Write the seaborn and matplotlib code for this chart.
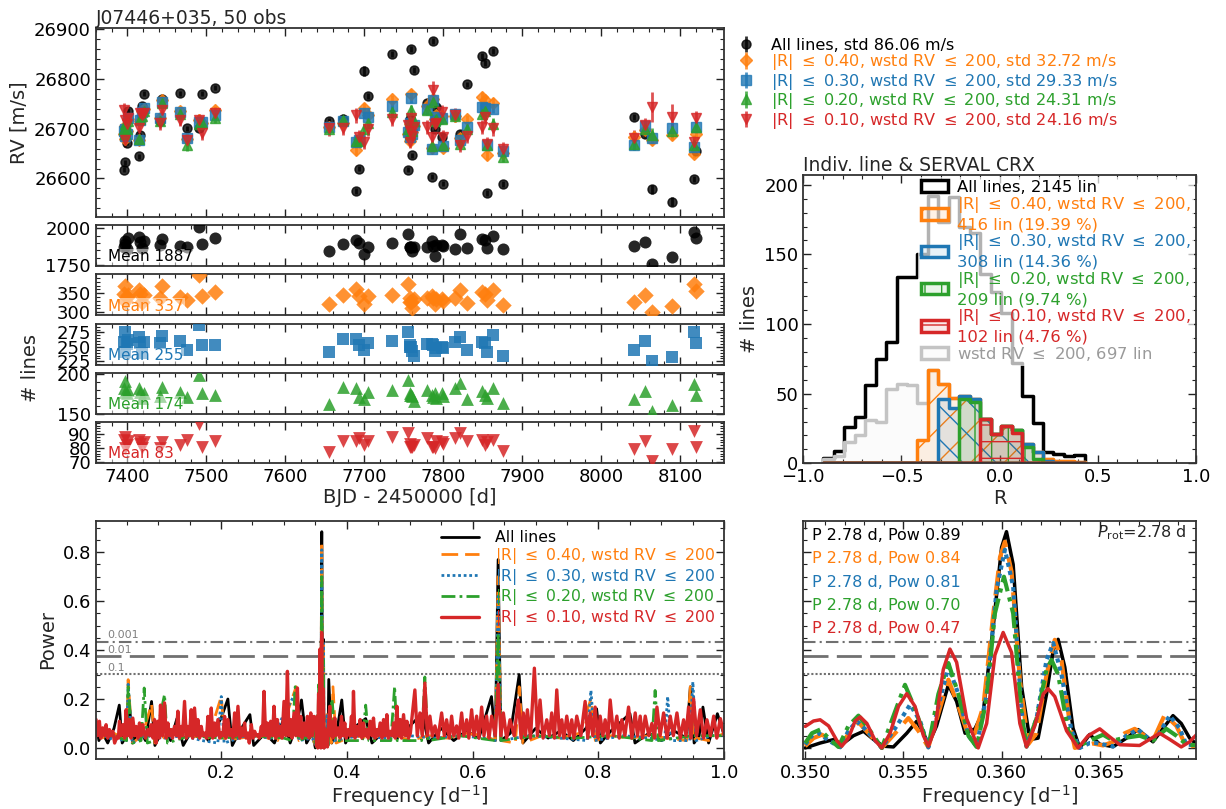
import numpy as np
import pandas as pd
import matplotlib
matplotlib.use("Agg")
import matplotlib.pyplot as plt
import seaborn as sns
from matplotlib.ticker import AutoMinorLocator, FixedLocator, NullFormatter

# ======================= DATA =======================
bjd = [7395.5, 7396.5, 7397.5, 7399.0, 7400.5, 7415.0, 7416.5, 7418.5, 7421.0, 7441.5,
       7443.5, 7467.0, 7476.0, 7490.5, 7494.5, 7511.0, 7656.0, 7673.0, 7689.5, 7693.0,
       7699.5, 7704.5, 7735.5, 7755.5, 7757.5, 7758.5, 7759.5, 7761.0, 7763.0, 7779.5,
       7785.5, 7787.5, 7789.0, 7790.5, 7798.0, 7799.5, 7815.0, 7821.5, 7830.0, 7849.0,
       7852.5, 7856.0, 7863.5, 7875.5, 8041.0, 8055.5, 8064.0, 8089.5, 8117.0, 8120.0]

rv_all = [26618, 26690, 26633, 26672, 26735, 26645, 26687, 26746, 26770, 26715,
          26759, 26771, 26701, 26702, 26770, 26782, 26716, 26719, 26575, 26620,
          26816, 26766, 26850, 26618, 26719, 26700, 26860, 26647, 26818, 26752,
          26603, 26876, 26700, 26743, 26684, 26589, 26725, 26690, 26789, 26846,
          26833, 26570, 26856, 26588, 26723, 26690, 26578, 26553, 26598, 26656]
rv_r40 = [26690, 26705, 26680, 26695, 26720, 26678, 26715, 26735, 26740, 26722,
          26758, 26735, 26680, 26717, 26712, 26738, 26704, 26712, 26657, 26680,
          26741, 26728, 26759, 26690, 26675, 26710, 26770, 26694, 26705, 26745,
          26662, 26760, 26720, 26728, 26725, 26662, 26725, 26682, 26719, 26764,
          26757, 26647, 26752, 26652, 26684, 26697, 26677, 26687, 26650, 26690]
rv_r30 = [26695, 26700, 26685, 26690, 26722, 26677, 26718, 26734, 26741, 26721,
          26754, 26734, 26681, 26714, 26714, 26727, 26703, 26716, 26674, 26678,
          26732, 26724, 26746, 26694, 26684, 26712, 26761, 26690, 26708, 26740,
          26660, 26758, 26718, 26723, 26721, 26665, 26730, 26678, 26704, 26743,
          26741, 26667, 26740, 26655, 26667, 26705, 26682, 26701, 26664, 26704]
rv_r20 = [26700, 26710, 26690, 26700, 26715, 26680, 26720, 26725, 26735, 26715,
          26752, 26730, 26667, 26710, 26712, 26722, 26700, 26718, 26676, 26675,
          26699, 26712, 26734, 26700, 26690, 26715, 26737, 26695, 26715, 26738,
          26665, 26754, 26715, 26720, 26720, 26668, 26726, 26670, 26700, 26730,
          26736, 26668, 26710, 26644, 26670, 26700, 26687, 26695, 26668, 26704]
rv_r10 = [26738, 26717, 26677, 26710, 26722, 26701, 26731, 26728, 26731, 26711,
          26738, 26717, 26677, 26717, 26692, 26731, 26701, 26701, 26727, 26684,
          26674, 26699, 26719, 26707, 26674, 26696, 26722, 26685, 26704, 26704,
          26684, 26778, 26710, 26712, 26734, 26684, 26727, 26667, 26685, 26704,
          26723, 26670, 26701, 26660, 26682, 26707, 26744, 26724, 26674, 26721]

err_all = [5, 5, 5, 5, 6, 5, 5, 5, 5, 5, 5, 5, 5, 5, 5, 5, 6, 5, 6, 6,
           10, 6, 6, 5, 5, 5, 6, 5, 6, 5, 5, 6, 5, 5, 5, 5, 5, 6, 5, 6,
           6, 6, 6, 6, 6, 6, 9, 9, 6, 6]
err_r40 = [8, 8, 8, 8, 9, 8, 8, 8, 8, 8, 9, 8, 8, 8, 9, 8, 9, 8, 10, 9,
           10, 9, 9, 8, 8, 8, 9, 8, 8, 9, 8, 9, 8, 8, 8, 8, 9, 9, 9, 9,
           9, 9, 9, 9, 9, 9, 10, 10, 9, 9]
err_r30 = [8, 8, 8, 9, 9, 8, 8, 9, 8, 8, 9, 8, 9, 8, 9, 8, 9, 9, 10, 9,
           10, 9, 9, 8, 9, 8, 9, 8, 9, 9, 8, 9, 9, 8, 8, 9, 9, 9, 9, 9,
           9, 9, 9, 9, 10, 9, 11, 10, 9, 10]
err_r20 = [10, 10, 11, 10, 11, 10, 10, 11, 10, 10, 11, 10, 11, 10, 11, 10, 11, 11, 12, 11,
           12, 11, 11, 10, 11, 10, 11, 10, 11, 11, 10, 11, 11, 10, 10, 11, 11, 11, 11, 11,
           11, 11, 11, 11, 12, 11, 14, 13, 11, 12]
err_r10 = [14, 12, 13, 12, 14, 12, 12, 12, 12, 13, 13, 12, 12, 12, 14, 12, 15, 14, 15, 14,
           14, 13, 14, 13, 13, 13, 15, 13, 13, 14, 14, 18, 13, 13, 13, 13, 14, 14, 14, 14,
           14, 14, 15, 14, 15, 15, 30, 25, 14, 15]

nl_all = [1875, 1913, 1890, 1860, 1932, 1943, 1905, 1864, 1913, 1886,
          1927, 1882, 1870, 2011, 1893, 1936, 1845, 1891, 1920, 1898,
          1823, 1875, 1902, 1959, 1875, 1870, 1875, 1845, 1870, 1870,
          1913, 1879, 1813, 1886, 1886, 1880, 1859, 1959, 1864, 1927,
          1918, 1864, 1950, 1857, 1877, 1909, 1755, 1804, 1973, 1932]
nl_r40 = [349, 370, 329, 340, 345, 358, 349, 327, 345, 338,
          370, 340, 331, 397, 343, 352, 322, 345, 361, 343,
          322, 343, 345, 373, 327, 338, 327, 311, 335, 338,
          343, 338, 322, 334, 334, 330, 338, 358, 325, 352,
          347, 331, 358, 318, 327, 345, 300, 315, 373, 356]
nl_r30 = [259, 275, 242, 255, 262, 267, 257, 239, 258, 257,
          269, 260, 245, 288, 253, 253, 242, 264, 264, 254,
          245, 257, 260, 276, 249, 253, 250, 243, 234, 255,
          255, 254, 243, 248, 250, 248, 259, 267, 245, 259,
          256, 241, 270, 235, 245, 260, 225, 232, 275, 257]
nl_r20 = [183, 191, 178, 176, 180, 183, 178, 170, 176, 172,
          184, 178, 171, 199, 176, 174, 162, 184, 182, 171,
          168, 178, 180, 193, 174, 176, 174, 172, 166, 180,
          174, 171, 176, 170, 176, 172, 182, 189, 169, 179,
          174, 170, 182, 164, 168, 179, 153, 161, 187, 174]
nl_r10 = [86, 88, 80, 82, 85, 86, 83, 80, 84, 80,
          84, 82, 86, 97, 81, 85, 77, 85, 85, 87,
          82, 85, 88, 91, 83, 81, 81, 81, 82, 87,
          81, 81, 80, 85, 84, 83, 87, 91, 85, 86,
          82, 84, 86, 78, 79, 85, 71, 79, 92, 81]

LEQ = "$\\leq$"
rv_labels = ["All lines, std 86.06 m/s",
             f"|R| {LEQ} 0.40, wstd RV {LEQ} 200, std 32.72 m/s",
             f"|R| {LEQ} 0.30, wstd RV {LEQ} 200, std 29.33 m/s",
             f"|R| {LEQ} 0.20, wstd RV {LEQ} 200, std 24.31 m/s",
             f"|R| {LEQ} 0.10, wstd RV {LEQ} 200, std 24.16 m/s"]
mean_labels = ["Mean 1887", "Mean 337", "Mean 255", "Mean 174", "Mean 83"]

# correlation histogram (counts per bin, shared bins)
r_bin_lo, r_bin_hi, r_nbins = -0.898, 0.434, 25
hist_all = [4, 9, 26, 33, 56, 75, 87, 134, 134, 150, 192, 173, 191, 170, 165, 136, 123, 108, 72, 48, 29, 8, 7, 5, 6]
hist_r40 = [0, 0, 0, 0, 0, 0, 0, 0, 0, 17, 67, 57, 47, 48, 46, 32, 21, 27, 24, 14, 8, 3, 2, 2, 1]
hist_r30 = [0, 0, 0, 0, 0, 0, 0, 0, 0, 0, 0, 46, 40, 48, 46, 32, 21, 27, 24, 14, 8, 2, 0, 0, 0]
hist_r20 = [0, 0, 0, 0, 0, 0, 0, 0, 0, 0, 0, 0, 0, 46, 44, 32, 21, 27, 24, 12, 3, 0, 0, 0, 0]
hist_r10 = [0, 0, 0, 0, 0, 0, 0, 0, 0, 0, 0, 0, 0, 0, 0, 32, 21, 27, 22, 0, 0, 0, 0, 0, 0]
hist_wstd = [3, 5, 15, 20, 31, 30, 53, 57, 56, 43, 67, 57, 47, 48, 46, 32, 21, 27, 24, 14, 8, 3, 2, 2, 1]
hist_labels = ["All lines, 2145 lin",
               f"|R| {LEQ} 0.40, wstd RV {LEQ} 200,\n416 lin (19.39 %)",
               f"|R| {LEQ} 0.30, wstd RV {LEQ} 200,\n308 lin (14.36 %)",
               f"|R| {LEQ} 0.20, wstd RV {LEQ} 200,\n209 lin (9.74 %)",
               f"|R| {LEQ} 0.10, wstd RV {LEQ} 200,\n102 lin (4.76 %)",
               f"wstd RV {LEQ} 200, 697 lin"]

# periodograms: (frequency, power) outside and inside the 0.35-0.37 window
pg_r10_out = [(0.0015, .116), (0.004, .05), (0.0068, .109), (0.009, .04), (0.0121, .082), (0.015, .05),
              (0.0174, .095), (0.020, .04), (0.0228, .075), (0.025, .05), (0.0281, .068), (0.031, .02),
              (0.0350, .048), (0.037, .04), (0.0387, .109), (0.041, .05), (0.0440, .095), (0.047, .04),
              (0.0493, .156), (0.052, .05), (0.0546, .116), (0.057, .04), (0.0599, .122), (0.063, .05),
              (0.0652, .088), (0.068, .04), (0.0705, .102), (0.073, .05), (0.0758, .095), (0.080, .04),
              (0.0838, .075), (0.087, .05), (0.0891, .095), (0.092, .04), (0.0944, .116), (0.097, .02),
              (0.0997, .109), (0.102, .04), (0.1039, .175), (0.107, .05), (0.1103, .184), (0.113, .04),
              (0.1156, .102), (0.118, .05), (0.1209, .075), (0.123, .04), (0.1262, .088), (0.129, .05),
              (0.1315, .150), (0.134, .04), (0.1368, .088), (0.139, .05), (0.1421, .190), (0.145, .04),
              (0.1474, .088), (0.150, .05), (0.1527, .156), (0.155, .04), (0.1580, .163), (0.161, .05),
              (0.1633, .116), (0.166, .04), (0.1687, .088), (0.171, .05), (0.1740, .061), (0.177, .04),
              (0.1793, .129), (0.182, .05), (0.1846, .163), (0.187, .04), (0.1899, .102), (0.192, .05),
              (0.1952, .116), (0.198, .04), (0.2005, .061), (0.203, .05), (0.2058, .129), (0.208, .04),
              (0.2111, .116), (0.214, .05), (0.2164, .075), (0.219, .04), (0.2217, .143), (0.224, .05),
              (0.2270, .170), (0.230, .04), (0.2323, .082), (0.235, .05), (0.2376, .102), (0.240, .04),
              (0.2429, .061), (0.245, .02), (0.2482, .095), (0.251, .04), (0.2535, .068), (0.256, .05),
              (0.2589, .054), (0.261, .04), (0.2642, .088), (0.266, .05), (0.2684, .231), (0.271, .05),
              (0.2737, .102), (0.276, .04), (0.2790, .109), (0.282, .05), (0.2843, .170), (0.287, .04),
              (0.2896, .116), (0.292, .05), (0.2949, .088), (0.297, .04), (0.3002, .190), (0.303, .05),
              (0.3056, .313), (0.308, .05), (0.3108, .116), (0.313, .04), (0.3161, .143), (0.319, .05),
              (0.3215, .245), (0.324, .05), (0.3268, .129), (0.329, .04), (0.3321, .102), (0.335, .05),
              (0.3374, .129), (0.340, .04), (0.3427, .143), (0.345, .05), (0.3480, .129),
              (0.3729, .17), (0.3740, .05), (0.3756, .109), (0.378, .04), (0.3809, .122), (0.383, .05),
              (0.3862, .082), (0.389, .04), (0.3915, .129), (0.394, .05), (0.3968, .102), (0.399, .04),
              (0.4021, .075), (0.405, .05), (0.4074, .129), (0.409, .05), (0.4106, .231), (0.413, .04),
              (0.4159, .088), (0.419, .05), (0.4212, .116), (0.424, .04), (0.4265, .102), (0.429, .05),
              (0.4318, .075), (0.434, .04), (0.4371, .109), (0.440, .05), (0.4424, .122), (0.445, .04),
              (0.4477, .075), (0.450, .05), (0.4530, .102), (0.456, .04), (0.4584, .116), (0.461, .05),
              (0.4637, .136), (0.466, .04), (0.4690, .068), (0.472, .05), (0.4743, .102), (0.477, .04),
              (0.4796, .170), (0.482, .05), (0.4849, .116), (0.487, .04), (0.4902, .136), (0.493, .05),
              (0.4955, .109), (0.498, .04), (0.501, .06), (0.5082, .237), (0.512, .05), (0.5162, .143),
              (0.520, .05), (0.5241, .265), (0.528, .05), (0.5321, .13), (0.536, .05), (0.5401, .09),
              (0.545, .04), (0.5507, .143), (0.555, .05), (0.5586, .115), (0.563, .04), (0.5666, .13),
              (0.570, .05), (0.5745, .09), (0.578, .04), (0.5825, .143), (0.586, .05), (0.5905, .115),
              (0.594, .04), (0.5984, .156), (0.602, .05), (0.6063, .13), (0.610, .04), (0.6143, .167),
              (0.618, .05), (0.6222, .13), (0.626, .04), (0.6302, .13), (0.636, .05), (0.6405, .26),
              (0.645, .05), (0.6488, .143), (0.654, .04), (0.6594, .115), (0.666, .05), (0.6726, .196),
              (0.677, .04), (0.6806, .143), (0.684, .05), (0.6870, .156), (0.692, .04), (0.6981, .326),
              (0.703, .05), (0.7071, .196), (0.712, .04), (0.7178, .115), (0.722, .05), (0.7257, .143),
              (0.730, .04), (0.7337, .237), (0.738, .05), (0.7417, .115), (0.745, .04), (0.7496, .13),
              (0.754, .05), (0.7575, .115), (0.761, .04), (0.7655, .13), (0.772, .05), (0.7788, .19),
              (0.783, .04), (0.7867, .143), (0.791, .05), (0.7947, .167), (0.799, .04), (0.8027, .13),
              (0.807, .05), (0.8106, .115), (0.815, .04), (0.8186, .196), (0.824, .05), (0.8292, .13),
              (0.833, .04), (0.8371, .115), (0.842, .05), (0.8478, .167), (0.853, .04), (0.8584, .143),
              (0.862, .05), (0.8663, .13), (0.870, .04), (0.8743, .13), (0.880, .05), (0.8849, .10),
              (0.889, .04), (0.8929, .167), (0.898, .05), (0.9035, .143), (0.909, .04), (0.9141, .13),
              (0.919, .05), (0.9247, .143), (0.930, .04), (0.9353, .115), (0.939, .05), (0.9432, .167),
              (0.947, .04), (0.9512, .20), (0.956, .05), (0.9618, .156), (0.967, .04), (0.9724, .115),
              (0.978, .05), (0.9831, .13), (0.988, .04), (0.9937, .12), (1.000, .05)]
pg_r10_win = [(0.35000, .088), (0.35042, .110), (0.35076, .115), (0.35119, .09), (0.35161, .03), (0.35186, .007),
              (0.35220, .04), (0.35254, .11), (0.35280, .127), (0.35314, .10), (0.35356, .03), (0.35390, .0),
              (0.35432, .06), (0.35475, .17), (0.35517, .222), (0.35559, .17), (0.35602, .05), (0.35627, .007),
              (0.35661, .08), (0.35703, .32), (0.35737, .404), (0.35771, .35), (0.35822, .12), (0.35881, .0),
              (0.35924, .10), (0.35966, .38), (0.36008, .472), (0.36051, .39), (0.36093, .10), (0.36127, .004),
              (0.36169, .09), (0.36212, .22), (0.36237, .242), (0.36271, .21), (0.36331, .07), (0.36390, .0),
              (0.36441, .05), (0.36500, .078), (0.36551, .045), (0.36602, .013), (0.36703, .01), (0.36754, .035),
              (0.36805, .06), (0.36856, .035), (0.36915, .004), (0.36958, .025), (0.37000, .06)]

pg_all_out = [(0.0015, .10), (0.006, .03), (0.012, .06), (0.020, .02), (0.030, .08), (0.0384, .175), (0.043, .02),
              (0.050, .05), (0.0546, .17), (0.060, .02), (0.070, .08), (0.080, .03), (0.0897, .19), (0.095, .01),
              (0.110, .09), (0.120, .03), (0.130, .12), (0.140, .01), (0.160, .10), (0.180, .03), (0.200, .12),
              (0.211, .20), (0.218, .01), (0.230, .07), (0.246, .136), (0.252, .01), (0.270, .06), (0.285, .02),
              (0.300, .12), (0.310, .02), (0.320, .09), (0.328, .196), (0.336, .02), (0.345, .06),
              (0.3713, .28), (0.376, .02), (0.385, .08), (0.392, .196), (0.398, .02), (0.410, .08), (0.430, .12),
              (0.440, .02), (0.460, .07), (0.480, .04), (0.500, .09), (0.520, .14), (0.530, .02), (0.550, .08),
              (0.570, .03), (0.590, .07), (0.610, .04), (0.630, .21), (0.636, .03), (0.6405, .77), (0.645, .03),
              (0.660, .06), (0.674, .30), (0.680, .02), (0.700, .08), (0.720, .04), (0.740, .07), (0.760, .03),
              (0.780, .08), (0.797, .16), (0.803, .02), (0.820, .07), (0.850, .14), (0.858, .02), (0.880, .06),
              (0.900, .03), (0.920, .07), (0.940, .04), (0.946, .25), (0.952, .02), (0.960, .05), (0.966, .167),
              (0.975, .02), (0.989, .14), (1.000, .05)]
pg_all_win = [(0.35000, .0), (0.35076, .02), (0.35144, .034), (0.35186, .014), (0.35246, .05), (0.35297, .068),
              (0.35347, .035), (0.35398, .007), (0.35449, .004), (0.35517, .06), (0.35568, .109), (0.35602, .06),
              (0.35627, .014), (0.35669, .09), (0.35729, .258), (0.35771, .19), (0.35814, .06), (0.35864, .078),
              (0.35907, .15), (0.35958, .50), (0.36000, .82), (0.36025, .884), (0.36059, .75), (0.36102, .25),
              (0.36144, .034), (0.36186, .04), (0.36229, .22), (0.36263, .40), (0.36288, .444), (0.36322, .33),
              (0.36364, .08), (0.36398, .0), (0.36449, .055), (0.36500, .015), (0.36568, .005), (0.36636, .04),
              (0.36695, .075), (0.36771, .025), (0.36822, .08), (0.36873, .132), (0.36915, .10), (0.36958, .04),
              (0.37000, .01)]

pg_r40_out = [(0.0015, .09), (0.010, .04), (0.030, .06), (0.050, .03), (0.0525, .279), (0.059, .02), (0.075, .05),
              (0.0897, .18), (0.095, .02), (0.120, .06), (0.150, .05), (0.180, .04), (0.2005, .21), (0.206, .03),
              (0.230, .04), (0.260, .05), (0.290, .03), (0.3195, .25), (0.324, .03), (0.345, .05),
              (0.3713, .12), (0.3755, .02), (0.378, .25), (0.383, .02), (0.410, .05), (0.440, .04), (0.470, .06),
              (0.500, .03), (0.530, .05), (0.560, .04), (0.590, .06), (0.620, .05), (0.636, .03), (0.6405, .70),
              (0.645, .03), (0.668, .02), (0.674, .25), (0.680, .02), (0.710, .05), (0.740, .04), (0.770, .06),
              (0.788, .20), (0.795, .03), (0.820, .05), (0.850, .04), (0.880, .05), (0.910, .04), (0.940, .03),
              (0.946, .25), (0.951, .03), (0.956, .04), (0.975, .03), (1.000, .06)]
pg_r40_win = [(0.35000, .007), (0.35042, .04), (0.35085, .054), (0.35127, .035), (0.35178, .003), (0.35229, .07),
              (0.35271, .105), (0.35322, .06), (0.35390, .0), (0.35458, .06), (0.35525, .122), (0.35576, .07),
              (0.35627, .003), (0.35678, .14), (0.35729, .279), (0.35780, .17), (0.35831, .05), (0.35864, .06),
              (0.35907, .17), (0.35958, .55), (0.35992, .78), (0.36017, .843), (0.36051, .72), (0.36093, .28),
              (0.36136, .015), (0.36178, .06), (0.36229, .30), (0.36271, .442), (0.36305, .36), (0.36347, .10),
              (0.36373, .0), (0.36424, .01), (0.36466, .018), (0.36517, .01), (0.36568, .025), (0.36627, .06),
              (0.36678, .078), (0.36729, .05), (0.36771, .03), (0.36831, .136), (0.36890, .09), (0.36941, .005),
              (0.37000, .01)]

pg_r30_out = [(0.0015, .08), (0.020, .04), (0.050, .03), (0.0525, .26), (0.059, .02), (0.080, .05), (0.110, .04),
              (0.140, .05), (0.170, .03), (0.195, .02), (0.2005, .21), (0.205, .02), (0.240, .05), (0.280, .04),
              (0.3195, .23), (0.324, .03), (0.345, .04),
              (0.3713, .10), (0.380, .03), (0.420, .05), (0.460, .04), (0.500, .05), (0.540, .04), (0.580, .05),
              (0.620, .04), (0.636, .03), (0.6405, .62), (0.645, .03), (0.690, .05), (0.740, .04), (0.782, .03),
              (0.788, .235), (0.794, .03), (0.840, .05), (0.880, .04), (0.905, .03), (0.910, .21), (0.915, .03),
              (0.945, .03), (0.950, .27), (0.955, .03), (0.980, .05), (1.000, .05)]
pg_r30_win = [(0.35000, .014), (0.35034, .05), (0.35068, .061), (0.35119, .03), (0.35178, .003), (0.35220, .07),
              (0.35263, .109), (0.35314, .07), (0.35390, .0), (0.35466, .09), (0.35534, .177), (0.35585, .11),
              (0.35627, .002), (0.35678, .17), (0.35729, .333), (0.35780, .22), (0.35831, .05), (0.35873, .006),
              (0.35924, .22), (0.35975, .65), (0.36017, .81), (0.36059, .66), (0.36102, .15), (0.36127, .006),
              (0.36178, .12), (0.36229, .36), (0.36263, .429), (0.36305, .30), (0.36356, .07), (0.36398, .0),
              (0.36449, .02), (0.36483, .02), (0.36568, .006), (0.36636, .05), (0.36695, .075), (0.36746, .04),
              (0.36788, .04), (0.36856, .132), (0.36907, .08), (0.36941, .014), (0.37000, .01)]

pg_r20_out = [(0.0015, .08), (0.030, .05), (0.050, .03), (0.0525, .25), (0.059, .02), (0.073, .03), (0.078, .245),
              (0.083, .02), (0.095, .03), (0.1103, .218), (0.115, .02), (0.150, .05), (0.200, .04), (0.250, .05),
              (0.300, .04), (0.313, .03), (0.318, .25), (0.323, .03), (0.345, .05),
              (0.3713, .06), (0.3765, .20), (0.382, .03), (0.425, .03), (0.430, .175), (0.435, .03),
              (0.470, .03), (0.476, .252), (0.480, .03), (0.519, .03), (0.524, .29), (0.529, .03), (0.580, .05),
              (0.636, .03), (0.6405, .47), (0.645, .03), (0.700, .05), (0.760, .04), (0.820, .05), (0.885, .03),
              (0.890, .235), (0.895, .03), (0.950, .05), (1.000, .05)]
pg_r20_win = [(0.35000, .02), (0.35034, .06), (0.35076, .075), (0.35119, .04), (0.35169, .004), (0.35220, .09),
              (0.35271, .132), (0.35322, .08), (0.35390, .0), (0.35449, .13), (0.35508, .258), (0.35559, .16),
              (0.35627, .004), (0.35678, .22), (0.35729, .347), (0.35780, .22), (0.35831, .05), (0.35873, .004),
              (0.35924, .20), (0.35966, .55), (0.36012, .70), (0.36059, .55), (0.36102, .14), (0.36127, .006),
              (0.36178, .12), (0.36229, .32), (0.36254, .36), (0.36288, .30), (0.36339, .07), (0.36390, .006),
              (0.36449, .03), (0.36517, .054), (0.36568, .03), (0.36619, .04), (0.36703, .05), (0.36771, .03),
              (0.36839, .078), (0.36890, .05), (0.36941, .014), (0.37000, .01)]

pg_labels = ["All lines",
             f"|R| {LEQ} 0.40, wstd RV {LEQ} 200",
             f"|R| {LEQ} 0.30, wstd RV {LEQ} 200",
             f"|R| {LEQ} 0.20, wstd RV {LEQ} 200",
             f"|R| {LEQ} 0.10, wstd RV {LEQ} 200"]
peak_labels = ["P 2.78 d, Pow 0.89", "P 2.78 d, Pow 0.84", "P 2.78 d, Pow 0.81",
               "P 2.78 d, Pow 0.70", "P 2.78 d, Pow 0.47"]
fap_levels = [0.435, 0.374, 0.302]
fap_labels = ["0.001", "0.01", "0.1"]

# ======================= STYLE =======================
sns.set_theme(style="ticks")
plt.rcParams.update({
    "font.family": ["DejaVu Sans"],
    "mathtext.fontset": "dejavusans",
    "font.size": 13,
    "axes.labelsize": 14,
    "axes.titlesize": 13.5,
    "xtick.labelsize": 13,
    "ytick.labelsize": 13,
    "axes.linewidth": 1.3,
    "axes.edgecolor": "#333333",
    "hatch.linewidth": 1.0,
})

C_ALL, C40, C30, C20, C10, CGR = "black", "#ff7f0e", "#1f77b4", "#2ca02c", "#d62728", "#c4c4c4"
colors = [C_ALL, C40, C30, C20, C10]
markers = ["o", "D", "s", "^", "v"]


def style(ax):
    ax.xaxis.set_minor_locator(AutoMinorLocator())
    ax.yaxis.set_minor_locator(AutoMinorLocator())
    ax.tick_params(which="both", direction="in", top=True, right=True, color="#222222", labelcolor="black")
    ax.tick_params(which="major", length=6, width=1.0)
    ax.tick_params(which="minor", length=3, width=0.8)
    for s in ax.spines.values():
        s.set_linewidth(1.3)
        s.set_color("#333333")


fig = plt.figure(figsize=(12.26, 8.09), dpi=100)
fig.patch.set_facecolor("white")

# ---------------- RV panel ----------------
ax_rv = fig.add_axes([0.0781, 0.7321, 0.5127, 0.2329])
rv_sets = [rv_all, rv_r40, rv_r30, rv_r20, rv_r10]
err_sets = [err_all, err_r40, err_r30, err_r20, err_r10]
msz = [6.5, 6, 6.5, 7, 7]
for y, e, c, m, ms, lab in zip(rv_sets, err_sets, colors, markers, msz, rv_labels):
    ax_rv.errorbar(bjd, y, yerr=e, fmt=m, color=c, ms=ms, mec=c, elinewidth=2, capsize=0,
                   alpha=0.8, label=lab)
ax_rv.set_xlim(7360, 8156)
ax_rv.set_ylim(26523, 26902)
ax_rv.set_ylabel("RV [m/s]")
ax_rv.set_title("J07446+035, 50 obs", loc="left", pad=3)
ax_rv.tick_params(labelbottom=False)
style(ax_rv)
leg = ax_rv.legend(loc="upper left", bbox_to_anchor=(1.012, 0.985), frameon=False, fontsize=11.6,
                   handlelength=1.0, handletextpad=1.0, labelspacing=-0.03, borderaxespad=0)
for txt, c in zip(leg.get_texts(), colors):
    txt.set_color(c)

# ---------------- number of lines panels ----------------
nl_sets = [nl_all, nl_r40, nl_r30, nl_r20, nl_r10]
bottoms = [0.6712, 0.6103, 0.5488, 0.4886, 0.4281]
ylims = [(1743, 2022), (292, 399.5), (218.7, 289.6), (149.8, 202), (69.6, 98.8)]
yticks = [[1750, 2000], [300, 350], [225, 250, 275], [150, 200], [70, 80, 90]]
msizes = [75, 70, 70, 85, 85]
nl_axes = []
for i, (n, c, m, b, yl, yt, ml, sz) in enumerate(zip(nl_sets, colors, markers, bottoms, ylims, yticks,
                                                     mean_labels, msizes)):
    ax = fig.add_axes([0.0781, b, 0.5127, 0.0507])
    sns.scatterplot(x=bjd, y=n, ax=ax, color=c, marker=m, s=sz, alpha=0.85, linewidth=0,
                    legend=False, zorder=3)
    ax.set_xlim(7360, 8156)
    ax.set_ylim(*yl)
    style(ax)
    ax.yaxis.set_major_locator(FixedLocator(yt))
    ax.text(0.02, 0.04, ml, transform=ax.transAxes, color=c, fontsize=11, ha="left", va="bottom",
            zorder=5, bbox=dict(facecolor="white", alpha=0.5, edgecolor="none", pad=0.5))
    if i < 4:
        ax.tick_params(labelbottom=False)
    nl_axes.append(ax)
nl_axes[-1].set_xlabel("BJD - 2450000 [d]", labelpad=2)
fig.text(30 / 1226, 1 - 368 / 809, "# lines", rotation=90, ha="center", va="center", fontsize=14)

# ---------------- histogram ----------------
ax_h = fig.add_axes([0.6552, 0.4273, 0.3203, 0.3564])
r_edges = np.linspace(r_bin_lo, r_bin_hi, r_nbins + 1)
r_cent = 0.5 * (r_edges[:-1] + r_edges[1:])
hist_specs = [
    (hist_all, C_ALL, (1, 1, 1, 0), None, hist_labels[0]),
    (hist_wstd, CGR, (0.85, 0.85, 0.85, 0.1), None, hist_labels[5]),
    (hist_r40, C40, (1.0, 0.5, 0.05, 0.1), "/", hist_labels[1]),
    (hist_r30, C30, (0.12, 0.47, 0.71, 0.1), "\\", hist_labels[2]),
    (hist_r20, C20, (0.17, 0.63, 0.17, 0.1), "|", hist_labels[3]),
    (hist_r10, C10, (0.84, 0.15, 0.16, 0.1), "-", hist_labels[4]),
]
for cnt, ec, fc, hatch, lab in hist_specs:
    df = pd.DataFrame({"R": r_cent, "n": np.asarray(cnt, dtype=float)})
    kw = dict(hatch=hatch) if hatch else {}
    sns.histplot(data=df, x="R", weights="n", bins=r_nbins, binrange=(r_bin_lo, r_bin_hi),
                 element="step", fill=True, ax=ax_h, color=ec, facecolor=fc, edgecolor=ec,
                 linewidth=2.5, label=lab, **kw)
ax_h.set_xlim(-1.0, 1.0)
ax_h.set_ylim(0, 207)
ax_h.set_xlabel("R", labelpad=2)
ax_h.set_ylabel("# lines")
ax_h.set_title("Indiv. line & SERVAL CRX", loc="left", pad=3)
style(ax_h)
h, l = ax_h.get_legend_handles_labels()
order = [hist_labels[0], hist_labels[1], hist_labels[2], hist_labels[3], hist_labels[4], hist_labels[5]]
hh = [h[l.index(o)] for o in order]
legh = ax_h.legend(hh, order, loc="upper right", fontsize=11.8, frameon=True, framealpha=0.7,
                   facecolor="white", edgecolor="none", labelspacing=0.0, handlelength=1.6,
                   handletextpad=0.6, borderaxespad=0.1, borderpad=0.2)
for txt, c in zip(legh.get_texts(), [C_ALL, C40, C30, C20, C10, "#9a9a9a"]):
    txt.set_color(c)

# ---------------- periodograms ----------------
pg_sets = [(pg_all_out, pg_all_win), (pg_r40_out, pg_r40_win), (pg_r30_out, pg_r30_win),
           (pg_r20_out, pg_r20_win), (pg_r10_out, pg_r10_win)]
lstyles = ["-", (0, (6, 2.5)), (0, (1, 1)), (0, (5, 1.5, 1, 1.5)), "-"]
lw_zoom = [2.5, 3.0, 3.0, 3.0, 2.5]
lw_full = [2.0, 2.0, 2.0, 2.0, 2.4]

ax_p = fig.add_axes([0.0781, 0.0622, 0.5127, 0.2942])
ax_z = fig.add_axes([0.6552, 0.0622, 0.3203, 0.2942])
for (out, win), c, ls, lwz, lwf, lab in zip(pg_sets, colors, lstyles, lw_zoom, lw_full, pg_labels):
    pts = sorted(out + win)
    f = np.array([p[0] for p in pts])
    pw = np.array([p[1] for p in pts])
    sns.lineplot(x=f, y=pw, ax=ax_p, color=c, linewidth=lwf, linestyle=ls, estimator=None,
                 sort=False, label=lab, legend=False)
    fw = np.array([p[0] for p in win])
    pww = np.array([p[1] for p in win])
    sns.lineplot(x=fw, y=pww, ax=ax_z, color=c, linewidth=lwz, linestyle=ls, estimator=None,
                 sort=False, legend=False)

fap_styles = [(0, (6, 2, 1, 2)), (0, (9, 3)), (0, (1, 1))]
fap_lw = [1.5, 2.0, 1.5]
for ax in (ax_p, ax_z):
    for lev, ls, lw in zip(fap_levels, fap_styles, fap_lw):
        ax.axhline(lev, color="#707070", linestyle=ls, linewidth=lw, zorder=1)
    ax.set_ylim(-0.044, 0.929)
    ax.set_xlabel("Frequency [d$^{-1}$]", labelpad=1)
    style(ax)
for lev, txt in zip(fap_levels, fap_labels):
    ax_p.text(0.02, lev + 0.006, txt, color="#808080", fontsize=8, ha="left", va="bottom")

ax_p.set_xlim(0.001, 1.0)
ax_p.set_ylabel("Power")
legp = ax_p.legend(loc="upper right", frameon=False, fontsize=11.3, handlelength=2.4,
                   handletextpad=1.0, labelspacing=0.05, borderaxespad=0.2)
for txt, c in zip(legp.get_texts(), colors):
    txt.set_color(c)

ax_z.set_xlim(0.3499, 0.3699)
ax_z.yaxis.set_major_formatter(NullFormatter())
ax_z.set_ylabel("")
ax_z.set_xticks([0.350, 0.355, 0.360, 0.365])
ax_z.xaxis.set_minor_locator(AutoMinorLocator(5))
for k, (txt, c) in enumerate(zip(peak_labels, colors)):
    ax_z.text(0.021, 0.937 - 0.098 * k, txt, transform=ax_z.transAxes, color=c, fontsize=11.5,
              ha="left", va="center")
ax_z.text(0.976, 0.951, "$P_\\mathrm{rot}$=2.78 d", transform=ax_z.transAxes, fontsize=11.5,
          ha="right", va="center")

fig.savefig("out.png", dpi=100, facecolor="white")
